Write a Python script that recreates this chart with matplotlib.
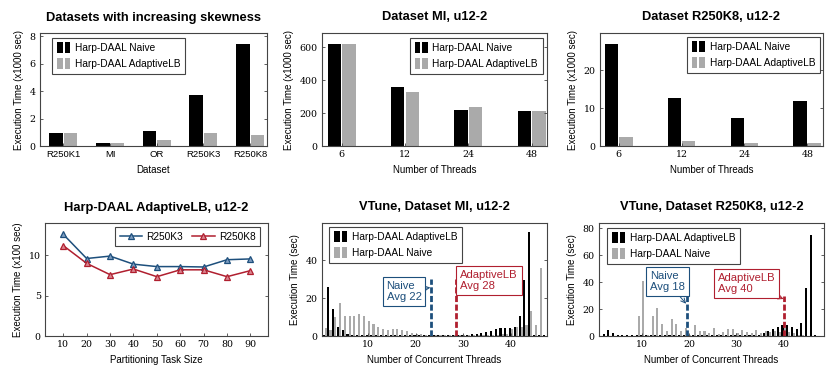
import matplotlib
matplotlib.use("Agg")
import matplotlib.pyplot as plt
import numpy as np
from matplotlib.legend_handler import HandlerBase
from matplotlib.patches import Rectangle
from matplotlib.container import BarContainer

plt.rcParams['font.family'] = ['Liberation Sans', 'DejaVu Sans']

# ---------------- data ----------------
datasets = ["R250K1", "MI", "OR", "R250K3", "R250K8"]
skew_naive = [0.95, 0.22, 1.12, 3.72, 7.42]
skew_adaptive = [0.92, 0.22, 0.46, 0.92, 0.79]

threads = ["6", "12", "24", "48"]
mi_naive = [618, 356, 218, 214]
mi_adaptive = [618, 327, 234, 212]
r8_naive = [26.8, 12.7, 7.4, 11.9]
r8_adaptive = [2.3, 1.4, 0.9, 0.8]

task_sizes = [10, 20, 30, 40, 50, 60, 70, 80, 90]
k3_time = [12.6, 9.6, 9.9, 8.9, 8.6, 8.6, 8.55, 9.45, 9.55]
k8_time = [11.2, 9.0, 7.6, 8.3, 7.35, 8.2, 8.2, 7.35, 8.1]

conc = list(range(1, 48))
vt_mi_adaptive = [0.5, 26, 14, 5, 3, 1.2, 0.6, 0.4, 0.4, 0.4,
                  0.4, 0.4, 0.3, 0.3, 0.3, 0.3, 0.3, 0.3, 0.3, 0.3,
                  0.3, 0.3, 0.3, 0.3, 0.3, 0.3, 0.3, 0.3, 0.3, 0.3,
                  0.5, 0.8, 1.2, 1.7, 2.2, 2.8, 3.5, 4, 4, 4,
                  4.5, 10.5, 29.5, 54.5, 0.5, 0.3, 0.3]
vt_mi_naive = [4, 3, 10, 17.5, 10.5, 10.5, 10.5, 11.5, 10.5, 8,
               6.5, 4.5, 3.5, 3, 3.5, 3.5, 3, 2.5, 1.5, 1,
               1, 0.5, 0.3, 0.3, 0.3, 0.3, 0.3, 0.3, 0.3, 0.3,
               0.3, 0.3, 0.3, 0.3, 0.3, 0.3, 0.5, 0.8, 1, 3.5,
               5, 5, 6, 13, 6, 36, 0]
vt_r8_adaptive = [1, 1.5, 4.2, 2.5, 1, 0.4, 0.4, 0.4, 0.4, 0.4,
                  0.4, 0.4, 0.4, 0.4, 0.4, 0.4, 0.4, 0.4, 0.4, 0.4,
                  0.4, 0.4, 0.4, 0.4, 0.4, 0.4, 0.4, 0.4, 0.4, 0.4,
                  0.4, 0.4, 0.4, 0.5, 1, 2.5, 4, 5.5, 7, 8,
                  8.5, 7, 5.5, 10, 36, 75, 1]
vt_r8_naive = [0, 0, 0, 0, 0, 0, 0, 0, 15, 41,
               0.5, 14.5, 21, 9, 3.5, 13, 9, 3.5, 6, 1,
               8.5, 4, 3.5, 2.5, 6, 1.5, 3, 5.5, 5.5, 2,
               4.5, 3, 2, 4.5, 2, 3.5, 3, 4, 3, 6,
               3, 2, 1, 0.5, 0, 0, 0]

avg_mi = {"naive": 23.3, "adaptive": 28.5}
avg_r8 = {"naive": 19.5, "adaptive": 40.2}

BLUE = "#1d4f7c"
RED = "#b01f2f"
GRAY = "#aaaaaa"
SPINE = "#444444"

SERIF = ['DejaVu Serif']
FS_TICK = 6.8
FS_LAB = 7.0
FS_LEG = 7.3
FS_TITLE = 9.3


class DoubleBarHandler(HandlerBase):
    def create_artists(self, legend, orig_handle, xdescent, ydescent,
                       width, height, fontsize, trans):
        if isinstance(orig_handle, BarContainer):
            c = orig_handle.patches[0].get_facecolor()
        else:
            c = orig_handle.get_facecolor()
        w = width * 0.42
        h = height * 1.55
        y0 = -ydescent - height * 0.27
        r1 = Rectangle((-xdescent, y0), w, h, fc=c, ec='none', transform=trans)
        r2 = Rectangle((-xdescent + width * 0.58, y0), w, h, fc=c, ec='none', transform=trans)
        return [r1, r2]


fig = plt.figure(figsize=(8.31, 3.8), dpi=100)
W, H = 831.0, 380.0


def add_ax(x0, x1, y0, y1):
    return fig.add_axes([x0 / W, 1 - y1 / H, (x1 - x0) / W, (y1 - y0) / H])


def style(ax, xtick_serif=True):
    for s in ax.spines.values():
        s.set_color(SPINE)
        s.set_linewidth(0.8)
    ax.tick_params(direction='in', length=2.5, width=0.6, color=SPINE,
                   labelsize=FS_TICK, top=False, right=True, pad=3)
    for lab in ax.get_yticklabels():
        lab.set_fontfamily(SERIF)
    if xtick_serif:
        for lab in ax.get_xticklabels():
            lab.set_fontfamily(SERIF)


def bar_legend(ax, handles, labels, loc, anchor):
    leg = ax.legend(handles, labels, loc=loc, bbox_to_anchor=anchor,
                    handler_map={BarContainer: DoubleBarHandler()},
                    fontsize=FS_LEG, frameon=True, fancybox=False,
                    edgecolor=SPINE, framealpha=1, borderpad=0.5,
                    handlelength=1.3, handletextpad=0.45, labelspacing=0.55,
                    borderaxespad=0)
    leg.get_frame().set_linewidth(0.8)
    return leg


def grouped_bars(ax, cats, a, b, width, ca, cb):
    x = np.arange(len(cats))
    off = width / 2 + 0.01
    b1 = ax.bar(x - off, a, width, color=ca, linewidth=0)
    b2 = ax.bar(x + off, b, width, color=cb, linewidth=0)
    ax.set_xticks(x)
    ax.set_xticklabels(cats)
    return b1, b2


# ---------- Panel 1 ----------
ax1 = add_ax(40, 267, 33, 146)
b1, b2 = grouped_bars(ax1, datasets, skew_naive, skew_adaptive, 0.29, 'black', GRAY)
ax1.set_xlim(-0.5, 4.36)
ax1.set_ylim(0, 8.25)
ax1.set_yticks([0, 2, 4, 6, 8])
style(ax1, xtick_serif=False)
ax1.set_title("Datasets with increasing skewness", fontsize=FS_TITLE, fontweight='bold', pad=9)
ax1.set_xlabel("Dataset", fontsize=FS_LAB, labelpad=4)
ax1.set_ylabel("Execution Time (x1000 sec)", fontsize=FS_LAB, labelpad=4)
bar_legend(ax1, [b1, b2], ["Harp-DAAL Naive", "Harp-DAAL AdaptiveLB"], 'upper left', (0.053, 0.956))

# ---------- Panel 2 ----------
ax2 = add_ax(322, 547, 33, 146)
b1, b2 = grouped_bars(ax2, threads, mi_naive, mi_adaptive, 0.21, 'black', GRAY)
ax2.set_xlim(-0.31, 3.24)
ax2.set_ylim(0, 685)
ax2.set_yticks([0, 200, 400, 600])
style(ax2)
ax2.set_title("Dataset MI, u12-2", fontsize=FS_TITLE, fontweight='bold', pad=9)
ax2.set_xlabel("Number of Threads", fontsize=FS_LAB, labelpad=4)
ax2.set_ylabel("Execution Time (x1000 sec)", fontsize=FS_LAB, labelpad=4)
bar_legend(ax2, [b1, b2], ["Harp-DAAL Naive", "Harp-DAAL AdaptiveLB"], 'upper right', (0.982, 0.956))

# ---------- Panel 3 ----------
ax3 = add_ax(600, 823, 33, 146)
b1, b2 = grouped_bars(ax3, threads, r8_naive, r8_adaptive, 0.21, 'black', GRAY)
ax3.set_xlim(-0.30, 3.25)
ax3.set_ylim(0, 29.8)
ax3.set_yticks([0, 10, 20])
style(ax3)
ax3.set_title("Dataset R250K8, u12-2", fontsize=FS_TITLE, fontweight='bold', pad=9)
ax3.set_xlabel("Number of Threads", fontsize=FS_LAB, labelpad=4)
ax3.set_ylabel("Execution Time (x1000 sec)", fontsize=FS_LAB, labelpad=4)
bar_legend(ax3, [b1, b2], ["Harp-DAAL Naive", "Harp-DAAL AdaptiveLB"], 'upper right', (0.987, 0.965))

# ---------- Panel 4 ----------
ax4 = add_ax(45, 268, 223, 336)
ax4.plot(task_sizes, k3_time, color=BLUE, lw=1.1, marker='^', ms=4.6,
         mfc="#7d9cc0", mec=BLUE, mew=0.9, label="R250K3")
ax4.plot(task_sizes, k8_time, color=RED, lw=1.1, marker='^', ms=4.6,
         mfc="#d98590", mec=RED, mew=0.9, label="R250K8")
ax4.set_xlim(2.2, 97.5)
ax4.set_ylim(0, 14)
ax4.set_xticks(task_sizes)
ax4.set_yticks([0, 5, 10])
style(ax4)
ax4.set_title("Harp-DAAL AdaptiveLB, u12-2", fontsize=FS_TITLE, fontweight='bold', pad=9)
ax4.set_xlabel("Partitioning Task Size", fontsize=FS_LAB, labelpad=4)
ax4.set_ylabel("Execution Time (x100 sec)", fontsize=FS_LAB, labelpad=4)
leg = ax4.legend(loc='upper right', bbox_to_anchor=(0.964, 0.965), ncol=2,
                 fontsize=FS_LEG, frameon=True, fancybox=False, edgecolor=SPINE,
                 framealpha=1, borderpad=0.45, handlelength=2.2, handletextpad=0.4,
                 columnspacing=0.9, borderaxespad=0)
leg.get_frame().set_linewidth(0.8)


# ---------- VTune panels ----------
def vtune(ax, adaptive, naive, avgs, xlim, ylim, yticks, title, boxes):
    x = np.array(conc)
    w = 0.44
    bA = ax.bar(x - 0.22, adaptive, w, color='black', linewidth=0)
    bN = ax.bar(x + 0.22, naive, w, color=GRAY, linewidth=0)
    ax.set_xlim(*xlim)
    ax.set_ylim(0, ylim)
    ax.set_xticks([10, 20, 30, 40])
    ax.set_yticks(yticks)
    style(ax)
    ax.set_title(title, fontsize=FS_TITLE, fontweight='bold', pad=9)
    ax.set_xlabel("Number of Concurrent Threads", fontsize=FS_LAB, labelpad=4)
    ax.set_ylabel("Execution Time (sec)", fontsize=FS_LAB, labelpad=4)
    for key, col in (("naive", BLUE), ("adaptive", RED)):
        xv = avgs[key]
        ax.plot([xv, xv], [0, 30], color=col, lw=2.0, ls=(0, (2.2, 0.9)), zorder=4)
    for (txt, col, tx, ty, ax_x, ax_y) in boxes:
        ax.annotate(txt, xy=(ax_x, ax_y), xytext=(tx, ty), textcoords='data',
                    color=col, fontsize=FS_LEG + 0.8, ha='center', va='center',
                    multialignment='left', linespacing=1.1, zorder=5,
                    bbox=dict(boxstyle='square,pad=0.35', fc='white', ec=col, lw=0.8),
                    arrowprops=dict(arrowstyle='->', color=col, lw=0.7,
                                    shrinkA=0, shrinkB=0))
    return bA, bN


ax5 = add_ax(322, 547, 223, 336)
mi_boxes = [("Naive\nAvg 22", BLUE, 17.6, 23.6, 23.1, 25.5),
            ("AdaptiveLB\nAvg 28", RED, 35.4, 29.4, 28.7, 22.0)]
bA, bN = vtune(ax5, vt_mi_adaptive, vt_mi_naive, avg_mi, (0.44, 47.5), 59.5,
               [0, 20, 40], "VTune, Dataset MI, u12-2", mi_boxes)
bar_legend(ax5, [bA, bN], ["Harp-DAAL AdaptiveLB", "Harp-DAAL Naive"], 'upper left', (0.031, 0.965))

ax6 = add_ax(599, 824, 223, 336)
r8_boxes = [("Naive\nAvg 18", BLUE, 15.3, 40.4, 19.3, 24.0),
            ("AdaptiveLB\nAvg 40", RED, 32.1, 39.1, 40.0, 27.5)]
bA, bN = vtune(ax6, vt_r8_adaptive, vt_r8_naive, avg_r8, (0.8, 48.6), 84,
               [0, 20, 40, 60, 80], "VTune, Dataset R250K8, u12-2", r8_boxes)
bar_legend(ax6, [bA, bN], ["Harp-DAAL AdaptiveLB", "Harp-DAAL Naive"], 'upper left', (0.036, 0.956))

fig.savefig("out.png", dpi=100)
